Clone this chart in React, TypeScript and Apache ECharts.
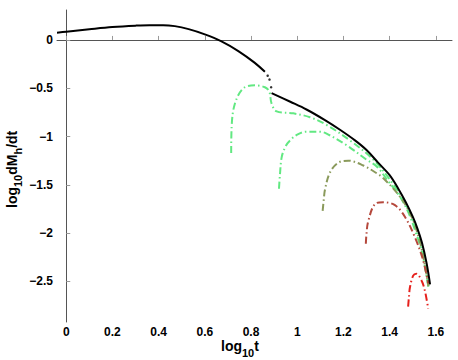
import React, { useEffect, useRef } from "react";
import * as echarts from "echarts";

const xTicks = [0, 0.2, 0.4, 0.6, 0.8, 1, 1.2, 1.4, 1.6];
const yTicks = [-2.5, -2, -1.5, -1, -0.5, 0];

const blackA: [number, number][] = [
  [-0.04, 0.075], [0.0, 0.085], [0.1, 0.11], [0.2, 0.133], [0.3, 0.148], [0.36, 0.153], [0.42, 0.153],
  [0.47, 0.143], [0.53, 0.112], [0.6, 0.058], [0.67, -0.012], [0.745, -0.115], [0.815, -0.235], [0.86, -0.33],
];
const blackDots: [number, number][] = [[0.872, -0.37], [0.88, -0.41], [0.887, -0.49]];
const blackB: [number, number][] = [
  [0.889, -0.55], [0.97, -0.64], [1.04, -0.72], [1.12, -0.83], [1.185, -0.93], [1.25, -1.04],
  [1.3, -1.14], [1.35, -1.27], [1.4, -1.4], [1.44, -1.55], [1.47, -1.68], [1.5, -1.83],
  [1.52, -1.95], [1.54, -2.1], [1.56, -2.31], [1.575, -2.53],
];
const green1: [number, number][] = [
  [0.714, -1.17], [0.716, -0.9], [0.73, -0.66], [0.767, -0.5], [0.817, -0.47], [0.86, -0.49],
  [0.879, -0.535], [0.889, -0.66], [0.911, -0.74], [0.983, -0.76], [1.055, -0.8], [1.127, -0.88],
  [1.228, -1.04], [1.33, -1.24], [1.415, -1.49], [1.46, -1.66], [1.5, -1.86], [1.53, -2.05],
  [1.55, -2.25], [1.568, -2.56],
];
const green2: [number, number][] = [
  [0.921, -1.54], [0.925, -1.4], [0.933, -1.21], [0.95, -1.1], [0.969, -1.04], [1.0, -0.98],
  [1.04, -0.95], [1.098, -0.95], [1.127, -0.97], [1.214, -1.09], [1.3, -1.24], [1.344, -1.31],
  [1.387, -1.44], [1.444, -1.62], [1.48, -1.78], [1.51, -1.97], [1.54, -2.2], [1.568, -2.56],
];
const olive: [number, number][] = [
  [1.11, -1.77], [1.115, -1.65], [1.12, -1.55], [1.142, -1.37], [1.178, -1.27], [1.221, -1.25],
  [1.286, -1.3], [1.344, -1.38], [1.372, -1.43], [1.444, -1.62], [1.495, -1.83], [1.53, -2.08],
  [1.55, -2.3], [1.568, -2.55],
];
const brownRed: [number, number][] = [
  [1.297, -2.11], [1.3, -2.0], [1.307, -1.88], [1.336, -1.7], [1.372, -1.68], [1.423, -1.71],
  [1.466, -1.83], [1.509, -2.04], [1.545, -2.28], [1.567, -2.52],
];
const red: [number, number][] = [
  [1.48, -2.76], [1.484, -2.65], [1.488, -2.56], [1.502, -2.44], [1.516, -2.42], [1.538, -2.49],
  [1.552, -2.59], [1.567, -2.78],
];

const FONT = "Liberation Sans, Arial, Helvetica, sans-serif";
const dashDot = [7, 3, 1.5, 3];

function fmt(v: number) {
  const s = String(Math.round(v * 10) / 10);
  return s.replace("-", "\u2212");
}

function dashed(name: string, data: [number, number][], color: string) {
  return {
    name,
    type: "line",
    data,
    showSymbol: false,
    smooth: 0.35,
    lineStyle: { color, width: 2, type: dashDot },
    z: 2,
  };
}

export default function App() {
  const ref = useRef<HTMLDivElement>(null);
  useEffect(() => {
    document.body.style.margin = "0";
    const chart = echarts.init(ref.current!, null, { renderer: "svg" });
    const main = (text: string, x: number, y: number) => ({
      type: "text",
      x,
      y,
      style: { text, font: `bold 14px ${FONT}`, fill: "#000", align: "left", verticalAlign: "middle", textAlign: "left", textVerticalAlign: "middle" },
    });
    const sub = (text: string, x: number, y: number) => ({
      type: "text",
      x,
      y,
      style: { text, font: `bold 11px ${FONT}`, fill: "#000", align: "left", verticalAlign: "middle", textAlign: "left", textVerticalAlign: "middle" },
    });
    const wLog = 14 * (0.278 + 0.611 + 0.611);
    const w10 = 11 * 0.556 * 2;
    const wdM = 14 * (0.611 + 0.833);
    const wh = 11 * 0.611;
    chart.setOption({
      animation: false,
      grid: { left: 57, right: 6, top: 10, bottom: 38, containLabel: false },
      xAxis: {
        type: "value",
        min: -0.04,
        max: 1.67,
        axisLine: { lineStyle: { color: "#555", width: 1 } },
        axisTick: { customValues: xTicks, inside: true, length: 4, lineStyle: { color: "#999" } },
        axisLabel: { customValues: xTicks, formatter: fmt, fontWeight: "bold", fontSize: 12, fontFamily: FONT, color: "#000", margin: 4 },
        splitLine: { show: false },
      },
      yAxis: {
        type: "value",
        min: -2.92,
        max: 0.31,
        axisLine: { show: true, lineStyle: { color: "#555", width: 1 } },
        axisTick: { show: true, customValues: yTicks, inside: true, length: 4, lineStyle: { color: "#999" } },
        axisLabel: { customValues: yTicks, formatter: fmt, fontWeight: "bold", fontSize: 12, fontFamily: FONT, color: "#000", margin: 4 },
        splitLine: { show: false },
      },
      graphic: [
        {
          type: "group",
          x: 221,
          y: 350.5,
          children: [
            main("log", 0, -4.9),
            sub("10", wLog, 6 - 3.8),
            main("t", wLog + w10, -4.9),
          ],
        },
        {
          type: "group",
          x: 16.5,
          y: 208,
          rotation: Math.PI / 2,
          children: [
            main("log", 0, -4.9),
            sub("10", wLog, 5.5 - 3.8),
            main("dM", wLog + w10, -4.9),
            sub("h", wLog + w10 + wdM, 5.5 - 3.8),
            main("/dt", wLog + w10 + wdM + wh, -4.9),
          ],
        },
      ],
      series: [
        dashed("green1", green1, "#62e882"),
        dashed("green2", green2, "#62e882"),
        dashed("olive", olive, "#8a9a5b"),
        dashed("brownRed", brownRed, "#b5483c"),
        dashed("red", red, "#e6201c"),
        { name: "blackA", type: "line", data: blackA, showSymbol: false, smooth: 0.35, lineStyle: { color: "#000", width: 2 }, z: 3 },
        { name: "blackDots", type: "scatter", data: blackDots, symbolSize: 2.5, itemStyle: { color: "#000" }, z: 3 },
        { name: "blackB", type: "line", data: blackB, showSymbol: false, smooth: 0.35, lineStyle: { color: "#000", width: 2 }, z: 3 },
      ],
    });
    return () => chart.dispose();
  }, []);
  return <div ref={ref} style={{ width: 458, height: 360 }} />;
}
